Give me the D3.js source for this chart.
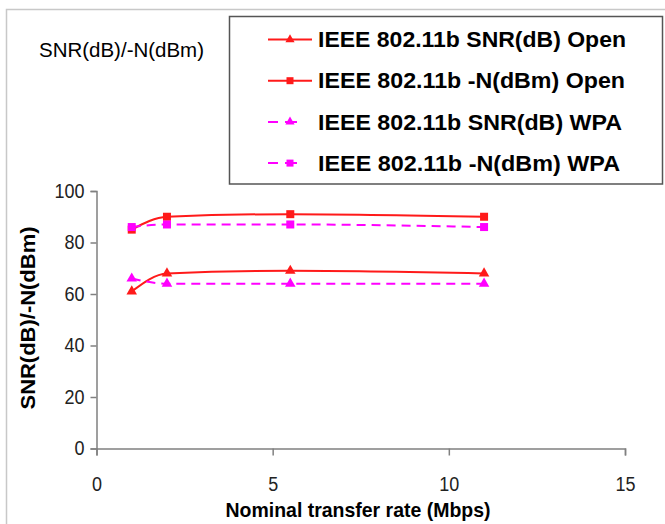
<!DOCTYPE html>
<html>
<head>
<meta charset="utf-8">
<script src="https://cdn.jsdelivr.net/npm/d3@7"></script>
<style>
  body { margin: 0; background: #fff; }
  text { font-family: "Liberation Sans", Arial, sans-serif; }
</style>
</head>
<body>
<svg></svg>
<script>
var viewWidth = 665;
var viewHeight = 524;

// data
var rates = [1, 2, 5.5, 11];
var snrOpen = [61, 68, 69, 68];
var noiseOpen = [85, 90, 91, 90];
var snrWpa = [66, 64, 64, 64];
var noiseWpa = [86, 87, 87, 86];
var xTicks = [0, 5, 10, 15];
var yTicks = [0, 20, 40, 60, 80, 100];
var legendWidths = [308, 307, 304, 302];

var series = [
    {name: "IEEE 802.11b SNR(dB) Open", values: snrOpen, color: "#ff1a1a", dash: null, marker: "triangle"},
    {name: "IEEE 802.11b -N(dBm) Open", values: noiseOpen, color: "#ff1a1a", dash: null, marker: "square"},
    {name: "IEEE 802.11b SNR(dB) WPA", values: snrWpa, color: "#ff00ff", dash: "9,6", marker: "triangle"},
    {name: "IEEE 802.11b -N(dBm) WPA", values: noiseWpa, color: "#ff00ff", dash: "9,6", marker: "square"}
];

var svg = d3.select("svg")
    .attr("width", viewWidth)
    .attr("height", viewHeight);

// chart area border
svg.append("path")
    .attr("d", "M6.5," + viewHeight + "V9.5H" + viewWidth)
    .attr("fill", "none")
    .attr("stroke", "#c8c8c8")
    .attr("stroke-width", 1.5);

var x = d3.scaleLinear().domain([0, 15]).range([96.5, 625]);
var y = d3.scaleLinear().domain([0, 100]).range([448.5, 191]);

var xAxis = svg.append("g")
    .attr("transform", "translate(0," + y(0) + ")")
    .call(d3.axisBottom(x).tickValues(xTicks).tickSize(7).tickPadding(21));
var yAxis = svg.append("g")
    .attr("transform", "translate(" + x(0) + ",0)")
    .call(d3.axisLeft(y).tickValues(yTicks).tickSize(6).tickPadding(6));

[xAxis, yAxis].forEach(function(g) {
    g.select(".domain").attr("stroke", "#808080").attr("stroke-width", 1.5);
    g.selectAll(".tick line").attr("stroke", "#808080").attr("stroke-width", 1.5);
    g.selectAll(".tick text")
        .attr("fill", "#222")
        .attr("textLength", function(d) { return String(d).length * 10; })
        .attr("lengthAdjust", "spacingAndGlyphs")
        .style("font-size", "20px")
        .style("font-family", "\"Liberation Sans\", Arial, sans-serif");
});
xAxis.selectAll(".tick text").attr("dy", "0.71em");

function drawMarker(g, type, cx, cy, color, size) {
    if (type === "square") {
        g.append("rect")
            .attr("x", cx - size / 2).attr("y", cy - size / 2)
            .attr("width", size).attr("height", size)
            .attr("fill", color);
    } else {
        g.append("path")
            .attr("d", d3.symbol().type(d3.symbolTriangle).size(size * size * 0.75)())
            .attr("transform", "translate(" + cx + "," + cy + ")")
            .attr("fill", color);
    }
}

var line = d3.line()
    .x(function(d) { return x(d[0]); })
    .y(function(d) { return y(d[1]); })
    .curve(d3.curveMonotoneX);

series.forEach(function(s) {
    var pts = rates.map(function(r, i) { return [r, s.values[i]]; });
    svg.append("path")
        .datum(pts)
        .attr("fill", "none")
        .attr("stroke", s.color)
        .attr("stroke-width", 2)
        .attr("stroke-dasharray", s.dash)
        .attr("d", line);
    var mg = svg.append("g");
    pts.forEach(function(p) {
        drawMarker(mg, s.marker, x(p[0]), y(p[1]), s.color, 8);
    });
});

// axis titles
svg.append("text")
    .attr("transform", "rotate(-90)")
    .attr("x", -318)
    .attr("y", 28)
    .attr("dy", "0.35em")
    .attr("textLength", 183)
    .attr("lengthAdjust", "spacingAndGlyphs")
    .style("text-anchor", "middle")
    .style("font-size", "20px")
    .style("font-weight", "bold")
    .text("SNR(dB)/-N(dBm)");

svg.append("text")
    .attr("x", 358)
    .attr("y", 510)
    .attr("dy", "0.35em")
    .attr("textLength", 265)
    .attr("lengthAdjust", "spacingAndGlyphs")
    .style("text-anchor", "middle")
    .style("font-size", "21px")
    .style("font-weight", "bold")
    .text("Nominal transfer rate (Mbps)");

svg.append("text")
    .attr("x", 39)
    .attr("y", 50)
    .attr("dy", "0.35em")
    .attr("textLength", 165)
    .attr("lengthAdjust", "spacingAndGlyphs")
    .style("font-size", "21px")
    .text("SNR(dB)/-N(dBm)");

// legend
var legend = svg.append("g");
legend.append("rect")
    .attr("x", 229.5).attr("y", 16.5)
    .attr("width", 433).attr("height", 167.5)
    .attr("fill", "#fff")
    .attr("stroke", "#555")
    .attr("stroke-width", 1.5);

series.forEach(function(s, i) {
    var ly = 39.5 + i * 41.2;
    legend.append("line")
        .attr("x1", 268).attr("x2", 312)
        .attr("y1", ly).attr("y2", ly)
        .attr("stroke", s.color)
        .attr("stroke-width", 2)
        .attr("stroke-dasharray", s.dash ? "10,7,12,15,8" : null);
    drawMarker(legend, s.marker, 290, ly, s.color, 7);
    legend.append("text")
        .attr("x", 318)
        .attr("y", ly)
        .attr("dy", "0.35em")
        .attr("textLength", legendWidths[i])
        .attr("lengthAdjust", "spacingAndGlyphs")
        .style("font-size", "22px")
        .style("font-weight", "bold")
        .text(s.name);
});
</script>
</body>
</html>
